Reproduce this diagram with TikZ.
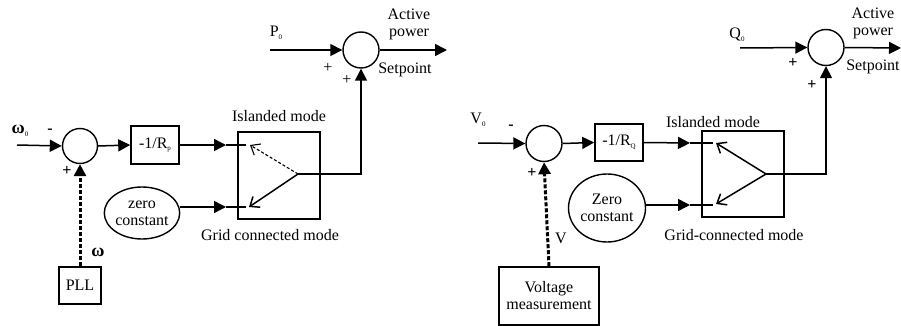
\documentclass[tikz,border=0pt]{standalone}
\usepackage{fontspec}
\setmainfont{Liberation Serif}
\usetikzlibrary{shapes.geometric, arrows.meta}
\newcommand{\tinysub}[1]{\raisebox{-2.5pt}{\fontsize{7}{7}\selectfont #1}}

\begin{document}
\begin{tikzpicture}[x=1pt, y=-1pt, font=\fontsize{16}{17}\selectfont, >={Triangle[length=12pt,width=12pt]}]
        \tikzstyle{box} = [rectangle, draw=black, line width=1.6pt, inner sep=2pt, align=center]
        \tikzstyle{sum} = [circle, draw=black, line width=1.4pt, minimum size=35pt, inner sep=0pt]
        \tikzstyle{const} = [ellipse, draw=black, line width=1.4pt, align=center, inner sep=0pt]
        \tikzstyle{sig} = [line width=1.5pt]
        \tikzstyle{meas} = [line width=3pt, dash pattern=on 4pt off 2pt]
        \tikzstyle{barb} = [line width=1.5pt, -{Straight Barb[length=8pt,width=13pt]}]
        \tikzstyle{lbl} = [inner sep=0pt]
        \useasboundingbox (0,0) rectangle (901,326);
        % frequency droop (left)
        \node (sumA) [sum] at (80,146) {};
        \node (gainA) [box, minimum width=48pt, minimum height=38pt] at (155,145) {-1/R\tinysub{p}};
        \node (swA) [box, minimum width=82pt, minimum height=87pt] at (279,175.5) {};
        \node (zeroA) [const, minimum width=72pt, minimum height=52pt] at (142,213) {zero\\constant};
        \node (pllA) [box, minimum width=42pt, minimum height=37pt] at (80,285.5) {PLL};
        \node (sumB) [sum, minimum size=36pt] at (361,50) {};
        \coordinate (w0in) at (17,145);
        \coordinate (p0in) at (270,50);
        \coordinate (outA) at (447,50);
        \coordinate (inA1) at (226,145);
        \coordinate (inA2) at (226,207);
        \coordinate (cA1) at (246,145);
        \coordinate (cA2) at (246,207);
        \coordinate (pivA) at (298,174);
        \node [lbl] at (20,131) {\fontsize{18}{18}\selectfont\textbf{ω}\tinysub{0}};
        \node [lbl] at (50,131) {\textbf{-}};
        \node [lbl] at (67,171) {\textbf{+}};
        \node [lbl] at (98,252) {\fontsize{18}{18}\selectfont\textbf{ω}};
        \node [lbl] at (276,33) {P\tinysub{0}};
        \node [lbl] at (328,68) {+};
        \node [lbl] at (347,80) {+};
        \node [lbl, align=center] at (409,24) {Active\\power};
        \node [lbl] at (405,70) {Setpoint};
        \node [lbl] at (279,116) {Islanded mode};
        \node [lbl] at (270,235) {Grid connected mode};
        \draw [sig, ->] (w0in) -- (sumA.west);
        \draw [sig, ->] (sumA.east) -- (gainA.west);
        \draw [sig, ->] (gainA.east) -- (inA1);
        \draw [sig] (inA1) -- (cA1);
        \draw [sig, ->] (zeroA.east |- inA2) -- (inA2);
        \draw [sig] (inA2) -- (cA2);
        \draw [meas, ->] (pllA.north) -- (sumA.south);
        \draw [barb, line width=1.1pt, densely dashed] (pivA) -- (250,145);
        \draw [barb] (pivA) -- (249,207);
        \draw [sig, ->] (pivA) -| (sumB.south);
        \draw [sig, ->] (p0in) -- (sumB.west);
        \draw [sig, ->] (sumB.east) -- (outA);
        % voltage droop (right)
        \node (sumC) [sum, minimum size=36pt] at (544,143.5) {};
        \node (gainB) [box, minimum width=48pt, minimum height=37pt] at (619,142.5) {-1/R\tinysub{Q}};
        \node (swB) [box, minimum width=82pt, minimum height=86pt] at (743,174) {};
        \node (zeroB) [const, minimum width=77pt, minimum height=68pt] at (607,208) {Zero\\constant};
        \node (vmeas) [box, minimum width=100pt, minimum height=58pt] at (549,296) {Voltage\\measurement};
        \node (sumD) [sum, minimum size=36pt] at (826,47.5) {};
        \coordinate (v0in) at (478,143);
        \coordinate (q0in) at (740,48);
        \coordinate (outB) at (901,48);
        \coordinate (inB1) at (690,143);
        \coordinate (inB2) at (690,205);
        \coordinate (cB1) at (713,143);
        \coordinate (cB2) at (713,205);
        \coordinate (pivB) at (766,174);
        \node [lbl] at (478,120) {V\tinysub{0}};
        \node [lbl] at (511,127) {\textbf{-}};
        \node [lbl] at (532,173) {\textbf{+}};
        \node [lbl] at (561,238) {V};
        \node [lbl] at (737,35) {Q\tinysub{0}};
        \node [lbl] at (793,63) {\textbf{+}};
        \node [lbl] at (812,85) {\textbf{+}};
        \node [lbl, align=center] at (873,23) {Active\\power};
        \node [lbl] at (873,67) {Setpoint};
        \node [lbl] at (713,122) {Islanded mode};
        \node [lbl] at (734,235) {Grid-connected mode};
        \draw [sig, ->] (v0in) -- (sumC.west);
        \draw [sig, ->] (sumC.east) -- (gainB.west);
        \draw [sig, ->] (gainB.east) -- (inB1);
        \draw [sig] (inB1) -- (cB1);
        \draw [sig, ->] (zeroB.east |- inB2) -- (inB2);
        \draw [sig] (inB2) -- (cB2);
        \draw [meas, ->] (vmeas.north) -- (sumC.south);
        \draw [barb] (pivB) -- (716,143);
        \draw [barb] (pivB) -- (716,204);
        \draw [sig, ->] (pivB) -| (sumD.south);
        \draw [sig, ->] (q0in) -- (sumD.west);
        \draw [sig, ->] (sumD.east) -- (outB);
    \end{tikzpicture}
\end{document}
